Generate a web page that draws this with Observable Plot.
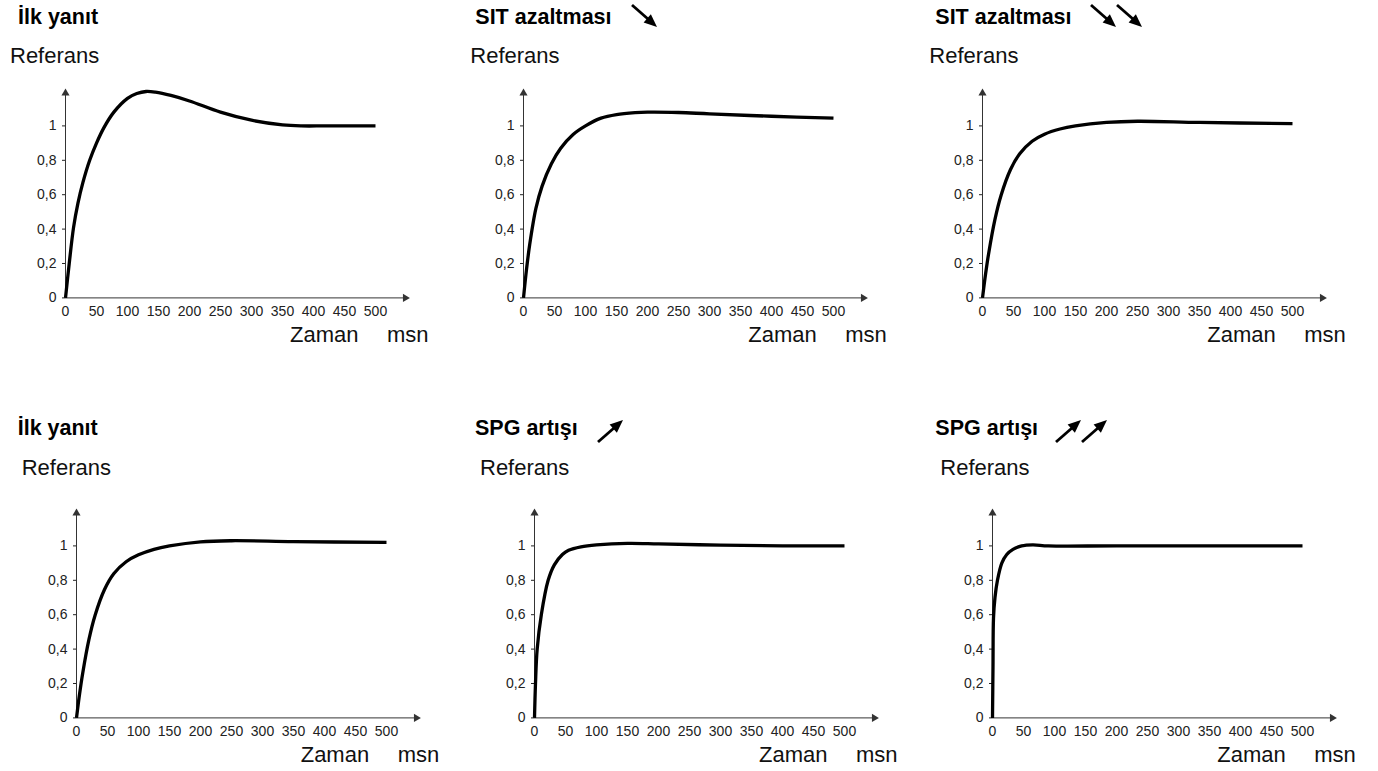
<!DOCTYPE html>
<html><head><meta charset="utf-8">
<script src="https://cdn.jsdelivr.net/npm/d3@7"></script>
<script src="https://cdn.jsdelivr.net/npm/@observablehq/plot@0.6"></script>
<style>
body{margin:0;background:#fff;}
#root{position:relative;width:1378px;height:771px;overflow:hidden;font-family:"Liberation Sans",Arial,Helvetica,sans-serif;}
.panel{position:absolute;}
#overlay{position:absolute;left:0;top:0;}
</style></head><body><div id="root"></div>
<script>
// ---- data ----
const titles = ["İlk yanıt", "SIT azaltması", "SIT azaltması", "İlk yanıt", "SPG artışı", "SPG artışı"];
const yLabel = "Referans";
const xLabel = "Zaman";
const xUnit = "msn";
const xTicks = [0, 50, 100, 150, 200, 250, 300, 350, 400, 450, 500];
const yTicks = [0, 0.2, 0.4, 0.6, 0.8, 1];
const yTickLabels = ["0", "0,2", "0,4", "0,6", "0,8", "1"];

const t1 = [0, 6, 13, 20, 28, 39, 50, 62, 78, 100, 115, 130, 145, 170, 200, 250, 300, 350, 380, 420, 500];
const v1 = [0, 0.2, 0.41, 0.55, 0.67, 0.8, 0.9, 0.99, 1.08, 1.16, 1.188, 1.2, 1.196, 1.177, 1.145, 1.08, 1.033, 1.006, 1.0, 1.0, 1.0];
const t2 = [0, 5, 10, 20, 30, 45, 60, 80, 100, 125, 150, 180, 200, 250, 300, 400, 500];
const v2 = [0, 0.17, 0.31, 0.52, 0.65, 0.78, 0.87, 0.95, 1.0, 1.045, 1.066, 1.077, 1.08, 1.078, 1.07, 1.056, 1.045];
const t3 = [0, 5, 10, 20, 30, 45, 60, 80, 100, 125, 150, 200, 250, 350, 500];
const v3 = [0, 0.14, 0.26, 0.455, 0.597, 0.745, 0.838, 0.911, 0.952, 0.982, 1.0, 1.02, 1.027, 1.02, 1.013];
const t4 = [0, 5, 10, 20, 30, 45, 60, 80, 100, 125, 150, 200, 250, 350, 500];
const v4 = [0, 0.14, 0.26, 0.455, 0.597, 0.745, 0.838, 0.908, 0.948, 0.98, 1.0, 1.024, 1.03, 1.025, 1.02];
const t5 = [0, 1.6, 4.3, 11, 22, 32, 45, 55, 75, 100, 150, 200, 300, 400, 500];
const v5 = [0, 0.2, 0.4, 0.6, 0.8, 0.89, 0.95, 0.975, 0.995, 1.006, 1.015, 1.012, 1.004, 1.0, 1.0];
const t6 = [0, 0.8, 1.6, 4, 8, 15, 23, 33, 47, 65, 90, 200, 500];
const v6 = [0, 0.3, 0.58, 0.7, 0.8, 0.9, 0.95, 0.98, 1.0, 1.006, 1.0, 1.0, 1.0];
const seriesT = [t1, t2, t3, t4, t5, t6];
const seriesV = [v1, v2, v3, v4, v5, v6];
const arrowDir = [null, "down", "down", null, "up", "up"];
const arrowCount = [0, 1, 2, 0, 1, 2];

// ---- layout / style ----
const origins = [[65, 297.5], [523.3, 297.5], [982.3, 297.5], [75.7, 717], [534, 717], [992.3, 717]];
const titleOff = [[-47, -273.5], [-48, -273.5], [-47, -273.5], [-58, -282], [-59, -282], [-57, -282]];
const refOff = [[-55, -235], [-53, -235], [-53, -235], [-54, -242], [-54, -242], [-52, -242]];
const arrowStart = [null, [632, 5], [1091, 5], null, [598, 442], [1056, 442]];

const mL = 60, mR = 25, mT = 10, mB = 24;
const xMax = 550, yMax = 1.2;
const pxX = 0.62, pxY = 172;
const plotW = mL + xMax * pxX + mR;
const plotH = mT + yMax * pxY + mB;
const root = document.getElementById("root");
const axisColor = "#333";

seriesT.forEach((ts, i) => {
  const data = ts.map((t, j) => ({t, v: seriesV[i][j]}));
  const chart = Plot.plot({
    width: plotW, height: plotH,
    marginLeft: mL, marginRight: mR, marginTop: mT, marginBottom: mB,
    style: {fontSize: "14px", fontFamily: '"Liberation Sans", Arial, sans-serif', color: "#222", background: "transparent"},
    x: {domain: [0, xMax], ticks: xTicks, tickSize: 0, tickPadding: 8, label: null},
    y: {domain: [0, yMax], ticks: yTicks, tickSize: 3, tickPadding: 6, label: null,
        tickFormat: d => yTickLabels[yTicks.indexOf(d)]},
    marks: [
      Plot.ruleY([0], {x1: 0, x2: xMax - 2, stroke: axisColor, strokeWidth: 1}),
      Plot.ruleX([0], {y1: 0, y2: yMax - 0.01, stroke: axisColor, strokeWidth: 1}),
      Plot.dot([{x: 0, y: yMax - 0.01}], {x: "x", y: "y", symbol: "triangle", r: 3, fill: axisColor, stroke: null}),
      Plot.dot([{x: xMax - 2, y: 0}], {x: "x", y: "y", symbol: "triangle", r: 3, rotate: 90, fill: axisColor, stroke: null}),
      Plot.line(data, {x: "t", y: "v", curve: "catmull-rom", stroke: "#000", strokeWidth: 3.3, strokeLinecap: "butt"})
    ]
  });
  chart.classList.add("panel");
  const [ox, oy] = origins[i];
  chart.style.left = (ox - mL) + "px";
  chart.style.top = (oy - mT - yMax * pxY) + "px";
  root.appendChild(chart);
});

// ---- text overlay ----
const svg = d3.select(root).append("svg").attr("id", "overlay").attr("width", 1378).attr("height", 771)
  .style("font-family", '"Liberation Sans", Arial, sans-serif');
origins.forEach(([ox, oy], i) => {
  svg.append("text").attr("x", ox + titleOff[i][0]).attr("y", oy + titleOff[i][1])
    .attr("font-size", 21.5).attr("font-weight", "bold").attr("fill", "#000").text(titles[i]);
  svg.append("text").attr("x", ox + refOff[i][0]).attr("y", oy + refOff[i][1])
    .attr("font-size", 22).attr("fill", "#111").text(yLabel);
  svg.append("text").attr("x", ox + 225).attr("y", oy + 44.5)
    .attr("font-size", 22).attr("fill", "#111").text(xLabel);
  svg.append("text").attr("x", ox + 322).attr("y", oy + 44.5)
    .attr("font-size", 22).attr("fill", "#111").text(xUnit);
  for (let k = 0; k < arrowCount[i]; k++) {
    const [sx, sy] = arrowStart[i];
    const dx = 25, dy = arrowDir[i] === "down" ? 22 : -22;
    const x1 = sx + k * 26, y1 = sy, x2 = x1 + dx, y2 = y1 + dy;
    const len = Math.hypot(dx, dy), ux = dx / len, uy = dy / len;
    const hl = 13, hw = 5.5;
    const bx = x2 - ux * hl, by = y2 - uy * hl;
    svg.append("line").attr("x1", x1).attr("y1", y1).attr("x2", bx + ux).attr("y2", by + uy)
      .attr("stroke", "#000").attr("stroke-width", 2.8);
    svg.append("polygon").attr("points", [[x2, y2], [bx - uy * hw, by + ux * hw], [bx + uy * hw, by - ux * hw]].map(p => p.join(",")).join(" "))
      .attr("fill", "#000");
  }
});
</script></body></html>
